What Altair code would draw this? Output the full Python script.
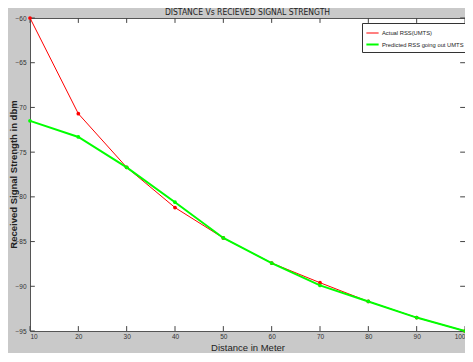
import altair as alt
import pandas as pd

distance = [10, 20, 30, 40, 50, 60, 70, 80, 90, 100]
actual = [-60.0, -70.7, -76.7, -81.2, -84.6, -87.4, -89.6, -91.7, -93.5, -95.0]
predicted = [-71.5, -73.3, -76.7, -80.6, -84.6, -87.4, -89.9, -91.7, -93.5, -95.0]
series_names = ["Actual RSS(UMTS)", "Predicted  RSS going out UMTS"]
series_colors = ["#ff0000", "#00ff00"]
x_ticks = [10, 20, 30, 40, 50, 60, 70, 80, 90, 100]
y_ticks = [-95, -90, -85, -80, -75, -70, -65, -60]
chart_title = "DISTANCE Vs RECIEVED SIGNAL STRENGTH"

rows = []
for d, a, p in zip(distance, actual, predicted):
    rows.append({"distance": d, "rss": a, "series": series_names[0]})
    rows.append({"distance": d, "rss": p, "series": series_names[1]})
df = pd.DataFrame(rows)

xs = alt.Scale(domain=[10, 100], nice=False, zero=False)
ys = alt.Scale(domain=[-95, -60], nice=False, zero=False)
cs = alt.Scale(domain=series_names, range=series_colors)

FONT = "Liberation Sans"

x_enc = alt.X("distance:Q", scale=xs,
              axis=alt.Axis(values=x_ticks, title="Distance in Meter", ticks=False, grid=False,
                            domain=False, labelFontSize=6.5, labelColor="#333", labelPadding=2,
                            labelFont=FONT, titleFont=FONT, titleFontSize=9.5, titleFontWeight="normal",
                            titleColor="#222", titleY=16, titleBaseline="middle"))
y_enc = alt.Y("rss:Q", scale=ys,
              axis=alt.Axis(values=y_ticks, title="Received Signal Strength in  dbm", ticks=False,
                            grid=False, domain=False, labelFontSize=6.5, labelColor="#333",
                            labelPadding=4, labelFont=FONT, titleFont=FONT, titleFontSize=9.5,
                            titleFontWeight="bold", titleColor="#222", titleX=-17, titleY=156,
                            titleAngle=270, titleAlign="center", titleBaseline="middle"))

lines = alt.Chart(df).mark_line().encode(
    x=x_enc,
    y=y_enc,
    color=alt.Color("series:N", scale=cs,
                    legend=alt.Legend(title=None, orient="none", legendX=332, legendY=5,
                                      fillColor="white", strokeColor="#333", padding=3,
                                      rowPadding=1, symbolType="stroke", symbolSize=150,
                                      symbolStrokeWidth=1.5, labelFontSize=5.8, labelFont=FONT,
                                      labelColor="#222", labelOffset=2)),
    strokeWidth=alt.StrokeWidth("series:N", scale=alt.Scale(domain=series_names, range=[1, 2]),
                                legend=None),
)

points = alt.Chart(df).mark_point(filled=True, size=14, opacity=1).encode(
    x=alt.X("distance:Q", scale=xs),
    y=alt.Y("rss:Q", scale=ys),
    color=alt.Color("series:N", scale=cs, legend=None),
)

xt = pd.DataFrame({"t": x_ticks})
yt = pd.DataFrame({"t": y_ticks})
tick_color = "#444"
bottom_ticks = alt.Chart(xt).mark_rule(color=tick_color, strokeWidth=1).encode(
    x=alt.X("t:Q", scale=xs), y=alt.datum(-95), y2=alt.datum(-94.45))
top_ticks = alt.Chart(xt).mark_rule(color=tick_color, strokeWidth=1).encode(
    x=alt.X("t:Q", scale=xs), y=alt.datum(-60), y2=alt.datum(-60.55))
left_ticks = alt.Chart(yt).mark_rule(color=tick_color, strokeWidth=1).encode(
    y=alt.Y("t:Q", scale=ys), x=alt.datum(10), x2=alt.datum(11.0))
right_ticks = alt.Chart(yt).mark_rule(color=tick_color, strokeWidth=1).encode(
    y=alt.Y("t:Q", scale=ys), x=alt.datum(100), x2=alt.datum(99.0))

title_df = pd.DataFrame({"text": [chart_title]})
title_mark = alt.Chart(title_df).mark_text(
    font="'DejaVu Sans Condensed', 'Liberation Sans', sans-serif", fontSize=8.5, color="#222",
    align="center", baseline="middle"
).encode(text="text:N", x=alt.value(217.5), y=alt.value(-6))

chart = alt.layer(bottom_ticks, top_ticks, left_ticks, right_ticks, lines, points, title_mark).properties(
    width=435, height=313,
    padding={"left": 22, "top": 10, "right": 0, "bottom": 22},
    autosize=alt.AutoSizeParams(type="none"),
    background="#c9c9c9",
).configure_view(fill="white", stroke="#555", strokeWidth=1)

chart.save("out.html", embed_options={"renderer": "svg", "actions": False})
